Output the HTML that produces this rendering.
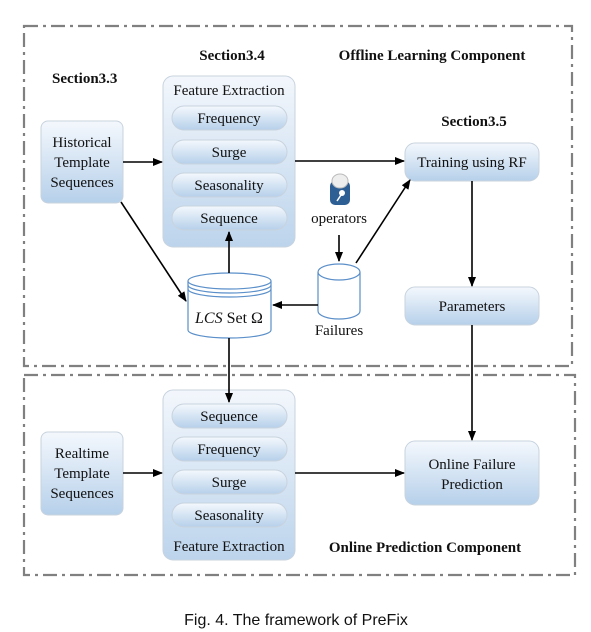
<!DOCTYPE html>
<html><head><meta charset="utf-8"><style>
html,body{margin:0;padding:0;background:#fff;width:591px;height:632px;overflow:hidden}
svg{display:block}
text{font-family:"Liberation Serif",serif;fill:#111}
</style></head><body>
<svg width="591" height="632" viewBox="0 0 591 632" xmlns="http://www.w3.org/2000/svg">
<defs>
<linearGradient id="g" x1="0" y1="0" x2="0" y2="1">
<stop offset="0" stop-color="#f4f8fd"/><stop offset="1" stop-color="#b6d0ea"/></linearGradient>
<linearGradient id="gb" x1="0" y1="0" x2="0" y2="1">
<stop offset="0" stop-color="#f3f7fc"/><stop offset="1" stop-color="#bcd4ec"/></linearGradient>
<marker id="a" markerWidth="10" markerHeight="8" refX="9" refY="4" orient="auto" markerUnits="userSpaceOnUse">
<path d="M0,0 L10,4 L0,8 z" fill="#000"/></marker>
</defs>
<g fill="none" stroke="#808080" stroke-width="2.2" stroke-dasharray="14,5,3,5">
<rect x="24" y="26" width="548" height="340"/>
<rect x="24" y="375" width="551" height="200"/>
</g>
<g font-weight="bold" font-size="15">
<text x="52" y="83">Section3.3</text>
<text x="232" y="60" text-anchor="middle">Section3.4</text>
<text x="432" y="60" text-anchor="middle">Offline Learning Component</text>
<text x="474" y="126" text-anchor="middle">Section3.5</text>
<text x="425" y="552" text-anchor="middle">Online Prediction Component</text>
</g>
<g stroke="#c8d3de" stroke-width="1">
<rect x="41" y="121" width="82" height="82" rx="7" fill="url(#g)"/>
<rect x="163" y="76" width="132" height="171" rx="10" fill="url(#gb)"/>
<rect x="405" y="143" width="134" height="38" rx="10" fill="url(#g)"/>
<rect x="405" y="287" width="134" height="38" rx="10" fill="url(#g)"/>
<rect x="41" y="432" width="82" height="83" rx="7" fill="url(#g)"/>
<rect x="163" y="390" width="132" height="170" rx="10" fill="url(#gb)"/>
<rect x="405" y="441" width="134" height="64" rx="10" fill="url(#g)"/>
</g>
<g stroke="#c8d3de" fill="url(#g)">
<rect x="172" y="106" width="115" height="24" rx="12"/>
<rect x="172" y="140" width="115" height="24" rx="12"/>
<rect x="172" y="173" width="115" height="24" rx="12"/>
<rect x="172" y="206" width="115" height="24" rx="12"/>
<rect x="172" y="404" width="115" height="24" rx="12"/>
<rect x="172" y="437" width="115" height="24" rx="12"/>
<rect x="172" y="470" width="115" height="24" rx="12"/>
<rect x="172" y="503" width="115" height="24" rx="12"/>
</g>
<!-- LCS cylinder -->
<g stroke="#5b8fc9" stroke-width="1.2" fill="#fff">
<path d="M188,281 L188,330 A41.5,8 0 0 0 271,330 L271,281"/>
<ellipse cx="229.5" cy="281" rx="41.5" ry="8"/>
<path d="M188,285 A41.5,8 0 0 0 271,285" fill="none"/>
<path d="M188,289 A41.5,8 0 0 0 271,289" fill="none"/>
</g>
<!-- Failures cylinder -->
<g stroke="#5b8fc9" stroke-width="1.2" fill="#fff">
<path d="M318,272 L318,311 A21,8 0 0 0 360,311 L360,272"/>
<ellipse cx="339" cy="272" rx="21" ry="8"/>
</g>
<g font-size="15" text-anchor="middle">
<text x="82" y="147">Historical</text>
<text x="82" y="167">Template</text>
<text x="82" y="187">Sequences</text>
<text x="229" y="95">Feature Extraction</text>
<text x="229" y="123">Frequency</text>
<text x="229" y="157">Surge</text>
<text x="229" y="190">Seasonality</text>
<text x="229" y="223">Sequence</text>
<text x="472" y="167">Training using RF</text>
<text x="472" y="311">Parameters</text>
<text x="82" y="458">Realtime</text>
<text x="82" y="478">Template</text>
<text x="82" y="498">Sequences</text>
<text x="229" y="421">Sequence</text>
<text x="229" y="454">Frequency</text>
<text x="229" y="487">Surge</text>
<text x="229" y="520">Seasonality</text>
<text x="229" y="551">Feature Extraction</text>
<text x="472" y="469">Online Failure</text>
<text x="472" y="489">Prediction</text>
<text x="339" y="223">operators</text>
<text x="339" y="335">Failures</text>
<text x="229" y="323" font-size="16"><tspan font-style="italic">LCS</tspan> Set Ω</text>
</g>
<!-- operator icon -->
<rect x="330" y="181" width="20" height="24" rx="5" fill="#2d5f95"/>
<ellipse cx="340" cy="181" rx="8" ry="7" fill="#eee" stroke="#bbb"/>
<circle cx="342" cy="193" r="3" fill="#fff"/>
<line x1="341" y1="195" x2="337" y2="201" stroke="#fff" stroke-width="1.5"/>
<!-- arrows -->
<g stroke="#000" stroke-width="1.6" fill="none" marker-end="url(#a)">
<line x1="123" y1="162" x2="162" y2="162"/>
<line x1="295" y1="161" x2="404" y2="161"/>
<line x1="472" y1="181" x2="472" y2="286"/>
<line x1="229" y1="273" x2="229" y2="232"/>
<line x1="121" y1="202" x2="186" y2="301"/>
<line x1="318" y1="305" x2="273" y2="305"/>
<line x1="339" y1="235" x2="339" y2="261"/>
<line x1="356" y1="263" x2="410" y2="180"/>
<line x1="229" y1="338" x2="229" y2="402"/>
<line x1="472" y1="325" x2="472" y2="440"/>
<line x1="123" y1="473" x2="162" y2="473"/>
<line x1="295" y1="473" x2="404" y2="473"/>
</g>
<text x="296" y="625" text-anchor="middle" style="font-family:'Liberation Sans',sans-serif" font-size="16">Fig. 4.  The framework of PreFix</text>
</svg>
</body></html>
